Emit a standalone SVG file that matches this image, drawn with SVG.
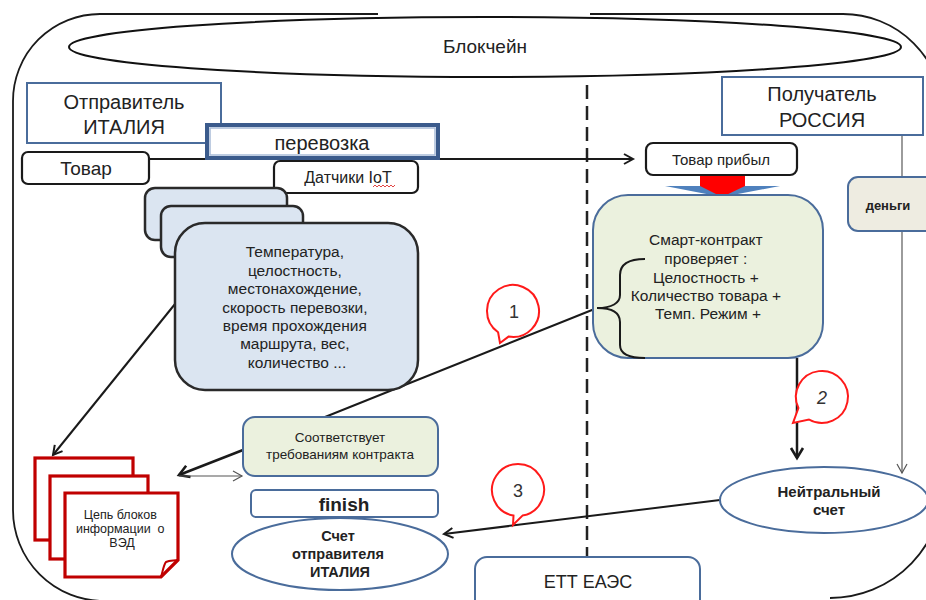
<svg xmlns="http://www.w3.org/2000/svg" width="926" height="600" viewBox="0 0 926 600">
<defs>
<style>
text{font-family:"Liberation Sans",Arial,sans-serif;fill:#222;text-anchor:middle}
.bluebox{fill:#fff;stroke:#4a6c9b;stroke-width:2}
.blk{fill:#fff;stroke:#1a1a1a;stroke-width:2.2}
.iot{fill:#dbe5f1;stroke:#2a2a2a;stroke-width:2.5}
.green{fill:#ebf1de;stroke:#4a6c9b;stroke-width:2}
.doc{fill:#fff;stroke:#c00000;stroke-width:3.2}
.bubble{fill:#fff;stroke:#ff1a1a;stroke-width:2}
.num{font-size:18px;fill:#333}
.ln{fill:none;stroke:#1a1a1a}
.b{font-weight:bold}
</style>
<marker id="arr" markerUnits="userSpaceOnUse" markerWidth="14" markerHeight="14" refX="11" refY="7" orient="auto"><path d="M2,2 L11,7 L2,12" fill="none" stroke="#1a1a1a" stroke-width="2"/></marker>
<marker id="arrThick" markerUnits="userSpaceOnUse" markerWidth="16" markerHeight="16" refX="12" refY="8" orient="auto"><path d="M2,2 L12,8 L2,14" fill="none" stroke="#1a1a1a" stroke-width="2.6"/></marker>
<marker id="arrThin" markerUnits="userSpaceOnUse" markerWidth="14" markerHeight="14" refX="11" refY="7" orient="auto"><path d="M2,2 L11,7 L2,12" fill="none" stroke="#555" stroke-width="1.2"/></marker>
</defs>

<g id="container">
<path class="ln" stroke-width="1.8" d="M100,14 H378 M590,14 H843 A100,100 0 0 1 943,114 V480 A113,113 0 0 1 830,598"/>
<path class="ln" stroke-width="1.8" d="M100,14 A87,87 0 0 0 13,101 V510 A91,91 0 0 0 104,601"/>
</g>

<g id="blockchain">
<ellipse cx="485" cy="47" rx="416" ry="30" fill="#fff" stroke="#111" stroke-width="2"/>
<text x="485" y="53" font-size="19">Блокчейн</text>
</g>

<g id="divider">
<line x1="587" y1="85" x2="587" y2="557" stroke="#222" stroke-width="2.5" stroke-dasharray="14 7"/>
</g>

<g id="connectors">
<line class="ln" stroke-width="1.8" x1="149" y1="159" x2="633" y2="159" marker-end="url(#arr)"/>
<line class="ln" stroke-width="2" x1="175" y1="304" x2="53" y2="455" marker-end="url(#arr)"/>
<line class="ln" stroke-width="2.5" x1="243" y1="450" x2="179" y2="475" marker-end="url(#arrThick)"/>
<line stroke="#555" stroke-width="1.2" x1="179" y1="476" x2="242" y2="476" marker-end="url(#arrThin)"/>
<line class="ln" stroke-width="2" x1="597" y1="308" x2="325" y2="417"/>
<line class="ln" stroke-width="2.5" x1="797" y1="358" x2="797" y2="458" marker-end="url(#arrThick)"/>
<line stroke="#666" stroke-width="1.3" x1="902" y1="135" x2="902" y2="473" marker-end="url(#arrThin)"/>
<line class="ln" stroke-width="2" x1="720" y1="500" x2="444" y2="534" marker-end="url(#arr)"/>
<g id="block-arrow">
<polygon points="665,186 780,186 722,197" fill="#4f81bd"/>
<rect x="700" y="176" width="45" height="10" fill="#ff0000"/>
<polygon points="700,186 745,186 722,197" fill="#ff0000"/>
</g>
</g>

<g id="sender">
<rect class="bluebox" x="27" y="83" width="194" height="60"/>
<text x="124" y="109" font-size="20">Отправитель</text>
<text x="124" y="134" font-size="20">ИТАЛИЯ</text>
</g>

<g id="receiver">
<rect class="bluebox" x="722" y="77" width="201" height="58"/>
<text x="822" y="101" font-size="20">Получатель</text>
<text x="822" y="127" font-size="20">РОССИЯ</text>
</g>

<g id="transport">
<rect x="207" y="125" width="231" height="33" fill="#fff" stroke="#3b5b8c" stroke-width="4"/>
<rect x="210" y="128" width="225" height="27" fill="none" stroke="#a9bcd8" stroke-width="1.5"/>
<text x="322" y="150" font-size="20">перевозка</text>
</g>

<g id="goods">
<rect class="blk" x="22" y="152" width="127" height="32" rx="6"/>
<text x="86" y="175" font-size="19">Товар</text>
</g>

<g id="sensors">
<rect class="blk" x="274" y="161" width="144" height="32" rx="6"/>
<text x="348" y="183" font-size="16">Датчики IoT</text>
<path d="M373,187 l2,-2 l2,2 l2,-2 l2,2 l2,-2 l2,2 l2,-2 l2,2 l2,-2 l2,2 l2,-2" fill="none" stroke="#e03030" stroke-width="0.9"/>
</g>

<g id="iot-data">
<rect class="iot" x="145" y="188" width="142" height="52" rx="10"/>
<rect class="iot" x="161" y="206" width="142" height="51" rx="10"/>
<rect class="iot" x="175" y="223" width="243" height="167" rx="30"/>
<text font-size="15.5" x="297">
<tspan x="297" y="257">Температура,</tspan>
<tspan x="297" y="276">целостность,</tspan>
<tspan x="297" y="294">местонахождение,</tspan>
<tspan x="297" y="313">скорость перевозки,</tspan>
<tspan x="297" y="331">время прохождения</tspan>
<tspan x="297" y="349">маршрута, вес,</tspan>
<tspan x="297" y="368">количество ...</tspan>
</text>
</g>

<g id="goods-arrived">
<rect class="blk" x="646" y="143" width="151" height="32" rx="7"/>
<text x="721" y="165" font-size="15">Товар прибыл</text>
</g>

<g id="smart-contract">
<rect class="green" x="593" y="195" width="230" height="163" rx="35"/>
<text font-size="15.5">
<tspan x="708" y="245">Смарт-контракт</tspan>
<tspan x="708" y="264">проверяет :</tspan>
<tspan x="708" y="283">Целостность +</tspan>
<tspan x="708" y="301">Количество товара +</tspan>
<tspan x="708" y="319">Темп. Режим +</tspan>
</text>
<path class="ln" stroke-width="2" d="M645,259 C628,259 620,264 620,275 L620,295 C620,303 612,308 597,308 C612,308 620,313 620,322 L620,345 C620,354 628,358 645,358"/>
</g>

<g id="money">
<rect class="green" style="fill:#eeece1" x="848" y="177" width="95" height="54" rx="10"/>
<text x="888" y="210" font-size="13" class="b">деньги</text>
</g>

<g id="matches">
<rect class="green" x="243" y="417" width="195" height="59" rx="12"/>
<text x="340" y="442" font-size="13.5">Соответствует</text>
<text x="340" y="459" font-size="13.5">требованиям контракта</text>
</g>

<g id="docs">
<rect class="doc" x="35" y="458" width="98" height="82"/>
<rect class="doc" x="50" y="476" width="98" height="83"/>
<path class="doc" d="M65,493 H178 V560 L161,577 H65 Z"/>
<path d="M161,577 C163,570 164,564 166,562 C170,560 174,561 178,560" fill="none" stroke="#c00000" stroke-width="2"/>
<text font-size="12.5">
<tspan x="122" y="519">Цепь блоков</tspan>
<tspan x="122" y="533">информации&#160; о</tspan>
<tspan x="122" y="547">ВЭД</tspan>
</text>
</g>

<g id="finish">
<rect class="bluebox" x="251" y="490" width="187" height="27" rx="5"/>
<text x="344" y="511" font-size="19" class="b">finish</text>
</g>

<g id="sender-account">
<ellipse class="bluebox" cx="340" cy="554" rx="108" ry="36"/>
<text font-size="14.5" class="b">
<tspan x="340" y="541">Счет</tspan>
<tspan x="340" y="559">отправителя</tspan>
<tspan x="340" y="577">ИТАЛИЯ</tspan>
</text>
</g>

<g id="neutral-account">
<ellipse class="bluebox" cx="824" cy="500" rx="104" ry="33"/>
<text x="829" y="497" font-size="15" class="b">Нейтральный</text>
<text x="829" y="515" font-size="15" class="b">счет</text>
</g>

<g id="ett">
<rect class="bluebox" x="475" y="557" width="225" height="60" rx="12"/>
<text x="588" y="588" font-size="18">ЕТТ ЕАЭС</text>
</g>

<g id="callout-1">
<path class="bubble" d="M508.5,336.6 A26,26 0 1 0 498.1,332.3 L500,343 Z"/>
<text class="num" x="514" y="318">1</text>
</g>
<g id="callout-2">
<path class="bubble" d="M809,419.5 A26,26 0 1 0 798.4,408 L793,423 Z"/>
<text class="num" x="822" y="404" font-style="italic">2</text>
</g>
<g id="callout-3">
<path class="bubble" d="M522.5,515.6 A26,26 0 1 0 513.5,515.6 L513,525 Z"/>
<text class="num" x="518" y="497">3</text>
</g>
</svg>
